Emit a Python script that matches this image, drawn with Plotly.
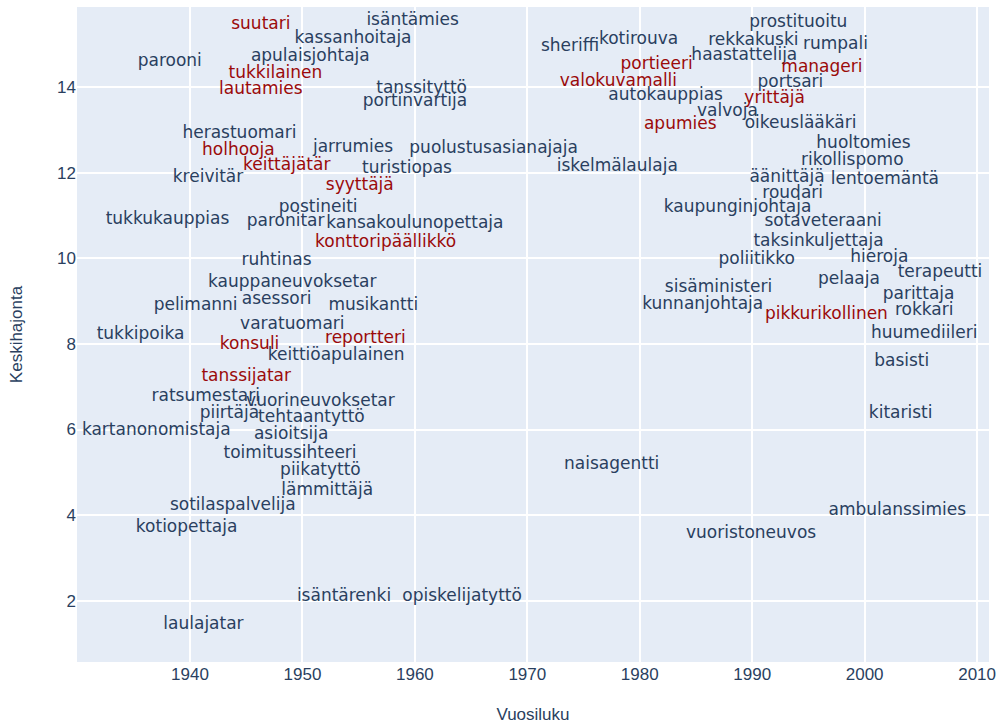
import plotly.graph_objects as go

words = [
    "suutari", "kassanhoitaja", "parooni", "apulaisjohtaja", "tukkilainen", "lautamies",
    "herastuomari", "holhooja", "jarrumies", "keittäjätär", "kreivitär", "turistiopas",
    "syyttäjä", "postineiti", "tukkukauppias", "paronitar", "kansakoulunopettaja",
    "isäntämies", "tanssityttö", "portinvartija", "puolustusasianajaja", "iskelmälaulaja",
    "sheriffi", "kotirouva", "portieeri", "valokuvamalli", "autokauppias", "apumies",
    "kaupunginjohtaja", "prostituoitu", "rekkakuski", "rumpali", "haastattelija", "manageri",
    "portsari", "yrittäjä", "valvoja", "oikeuslääkäri", "huoltomies", "rikollispomo",
    "äänittäjä", "lentoemäntä", "roudari", "sotaveteraani", "konttoripäällikkö", "ruhtinas",
    "kauppaneuvoksetar", "asessori", "pelimanni", "musikantti", "varatuomari", "tukkipoika",
    "konsuli", "reportteri", "keittiöapulainen", "tanssijatar", "ratsumestari",
    "vuorineuvoksetar", "piirtäjä", "tehtaantyttö", "kartanonomistaja", "asioitsija",
    "taksinkuljettaja", "poliitikko", "hieroja", "terapeutti", "pelaaja", "sisäministeri",
    "parittaja", "kunnanjohtaja", "pikkurikollinen", "rokkari", "huumediileri", "basisti",
    "kitaristi", "toimitussihteeri", "piikatyttö", "lämmittäjä", "sotilaspalvelija",
    "kotiopettaja", "isäntärenki", "laulajatar", "naisagentti", "opiskelijatyttö",
    "ambulanssimies", "vuoristoneuvos",
]

years = [
    1946.3, 1954.5, 1938.2, 1950.7, 1947.6, 1946.3,
    1944.4, 1944.3, 1954.5, 1948.6, 1941.6, 1959.3,
    1955.1, 1951.4, 1938.0, 1948.5, 1960.0,
    1959.8, 1960.6, 1960.0, 1967.0, 1978.0,
    1973.8, 1979.9, 1981.5, 1978.1, 1982.3, 1983.6,
    1988.7, 1994.1, 1990.1, 1997.4, 1989.3, 1996.2,
    1993.4, 1992.0, 1987.8, 1994.3, 1999.9, 1998.9,
    1993.1, 2001.8, 1993.6, 1996.3, 1957.4, 1947.7,
    1949.1, 1947.7, 1940.5, 1956.3, 1949.1, 1935.6,
    1945.3, 1955.6, 1953.0, 1945.0, 1941.4,
    1951.6, 1943.5, 1950.8, 1937.0, 1949.0,
    1995.9, 1990.4, 2001.3, 2006.7, 1998.6, 1987.0,
    2004.8, 1985.6, 1996.6, 2005.3, 2005.3, 2003.3,
    2003.2, 1948.9, 1951.6, 1952.2, 1943.8,
    1939.7, 1953.7, 1941.2, 1977.5, 1964.2,
    2002.9, 1989.9,
]

sds = [
    15.45, 15.12, 14.60, 14.70, 14.32, 13.94,
    12.92, 12.52, 12.58, 12.17, 11.87, 12.09,
    11.69, 11.18, 10.91, 10.85, 10.81,
    15.55, 13.97, 13.65, 12.56, 12.15,
    14.93, 15.10, 14.52, 14.13, 13.80, 13.12,
    11.17, 15.51, 15.09, 14.98, 14.72, 14.44,
    14.10, 13.72, 13.43, 13.14, 12.67, 12.28,
    11.87, 11.83, 11.51, 10.86, 10.36, 9.95,
    9.42, 9.03, 8.90, 8.90, 8.45, 8.22,
    7.99, 8.11, 7.73, 7.23, 6.76,
    6.65, 6.37, 6.28, 5.98, 5.89,
    10.38, 9.97, 10.01, 9.66, 9.50, 9.31,
    9.15, 8.92, 8.69, 8.77, 8.24, 7.58,
    6.37, 5.44, 5.03, 4.58, 4.23,
    3.71, 2.10, 1.43, 5.18, 2.10,
    4.11, 3.57,
]

highlighted = [
    "suutari", "tukkilainen", "lautamies", "holhooja", "keittäjätär", "syyttäjä",
    "konttoripäällikkö", "konsuli", "reportteri", "tanssijatar", "portieeri",
    "valokuvamalli", "apumies", "manageri", "yrittäjä", "pikkurikollinen",
]

x_ticks = [1940, 1950, 1960, 1970, 1980, 1990, 2000, 2010]
y_ticks = [2, 4, 6, 8, 10, 12, 14]

BLUE = "#2a3f5f"
RED = "#9b0a0a"
colors = [RED if w in highlighted else BLUE for w in words]

fig = go.Figure(
    go.Scatter(
        x=years,
        y=sds,
        text=words,
        mode="text",
        textposition="middle center",
        textfont=dict(family="DejaVu Sans, Verdana, sans-serif", size=17, color=colors),
        hoverinfo="text",
        showlegend=False,
    )
)

fig.update_layout(
    width=998,
    height=724,
    margin=dict(l=77, r=9, t=7, b=62, autoexpand=False),
    plot_bgcolor="#E5ECF6",
    paper_bgcolor="white",
    font=dict(family="Liberation Sans, Arial, sans-serif", size=17, color=BLUE),
    xaxis=dict(
        title=dict(text="Vuosiluku", font=dict(size=17), standoff=30),
        range=[1929.95, 2011.06],
        tickvals=x_ticks,
        gridcolor="white",
        gridwidth=1.5,
        zeroline=False,
        tickfont=dict(size=17),
        automargin=False,
    ),
    yaxis=dict(
        title=dict(text="Keskihajonta", font=dict(size=17), standoff=30),
        range=[0.57, 15.87],
        tickvals=y_ticks,
        gridcolor="white",
        gridwidth=1.5,
        zeroline=False,
        tickfont=dict(size=17),
        automargin=False,
    ),
)

fig.write_html(
    "out.html",
    config={"displayModeBar": False},
    post_script=(
        "document.body.style.margin='0';document.body.style.padding='0';"
        "document.body.style.overflow='hidden';"
        "document.documentElement.style.overflow='hidden';"
    ),
)
